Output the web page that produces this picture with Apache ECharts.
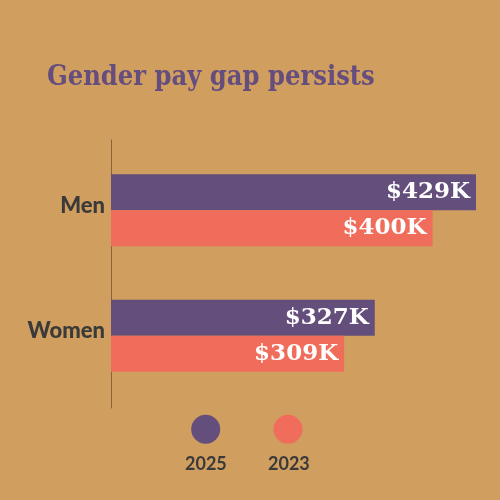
<!DOCTYPE html>
<html>
<head>
<meta charset="utf-8">
<script src="https://cdn.jsdelivr.net/npm/echarts@6/dist/echarts.min.js"></script>
<style>html,body{margin:0;padding:0;background:#D09E5E;}#c{width:500px;height:500px;}</style>
</head>
<body>
<div id="c"></div>
<script>
// ---- data ----
const categories = ['Men', 'Women'];
const seriesNames = ['2025', '2023'];
// values printed on the bars (thousand $)
const values2025 = [429, 327];
const values2023 = [400, 309];
// bar extents as drawn in the picture (axis units, same scale as the 429 bar)
const bars2025 = [429, 310];
const bars2023 = [378, 274];
const axisMax = 429;

const purple = '#644E7B';
const coral = '#F06C5B';
const dark = '#3A3A3A';

const chart = echarts.init(document.getElementById('c'));
const labelFmt = vals => p => '$' + vals[p.dataIndex] + 'K';
const barLabel = vals => ({
  show: true, position: 'insideRight', distance: 6, color: '#fff',
  fontFamily: 'DejaVu Serif', fontWeight: 'bold', fontSize: 23,
  formatter: labelFmt(vals)
});

chart.setOption({
  backgroundColor: '#D09E5E',
  animation: false,
  title: {
    text: 'Gender pay gap persists', left: 47, top: 64, padding: 0,
    textStyle: { fontFamily: 'DejaVu Serif Condensed', fontWeight: 'bold', fontSize: 27, color: '#654D7E' }
  },
  grid: [
    { left: 111, right: 24, top: 147.5, height: 251, containLabel: false },
    { left: 111, right: 24, top: 140, height: 268, containLabel: false }
  ],
  xAxis: [
    { type: 'value', gridIndex: 0, min: 0, max: axisMax, show: false },
    { type: 'value', gridIndex: 1, min: 0, max: axisMax, show: false }
  ],
  yAxis: [
    { type: 'category', gridIndex: 0, data: categories, inverse: true,
      axisLine: { show: false }, axisTick: { show: false },
      axisLabel: { margin: 6, formatter: v => '{a|' + v + '}',
        rich: { a: { color: dark, fontFamily: 'Lato', fontWeight: 900, fontSize: 22, padding: [0, 0, 9, 0] } } } },
    { type: 'category', gridIndex: 1, data: categories, inverse: true,
      axisLine: { show: true, lineStyle: { color: '#8C6239', width: 1 } },
      axisTick: { show: false }, axisLabel: { show: false } }
  ],
  legend: [
    { data: [seriesNames[0]], left: 191.2, top: 414.8, padding: 0, icon: 'circle', itemWidth: 29, itemHeight: 29,
      formatter: () => '', selectedMode: false },
    { data: [seriesNames[1]], left: 273.5, top: 414.8, padding: 0, icon: 'circle', itemWidth: 29, itemHeight: 29,
      formatter: () => '', selectedMode: false }
  ],
  graphic: seriesNames.map((n, i) => ({
    type: 'text', left: i === 0 ? 185 : 268, top: 455,
    style: { text: n, fill: dark, font: 'bold 18px Lato' }
  })),
  series: [
    { name: seriesNames[0], type: 'bar', xAxisIndex: 0, yAxisIndex: 0, data: bars2025,
      barWidth: 36, barGap: '0%', itemStyle: { color: purple }, label: barLabel(values2025) },
    { name: seriesNames[1], type: 'bar', xAxisIndex: 0, yAxisIndex: 0, data: bars2023,
      barWidth: 36, barGap: '0%', itemStyle: { color: coral }, label: barLabel(values2023) }
  ]
});
</script>
</body>
</html>
